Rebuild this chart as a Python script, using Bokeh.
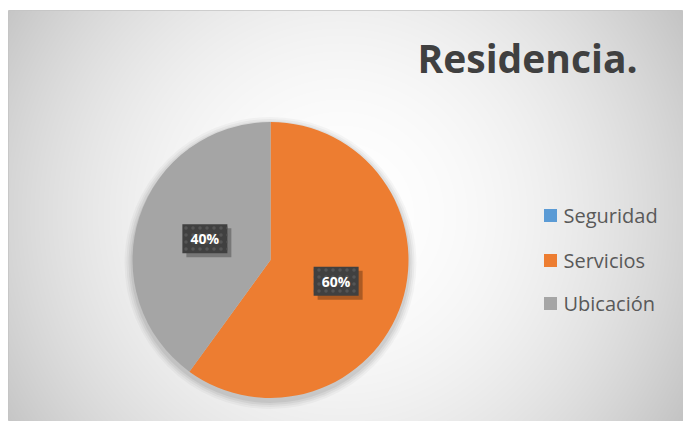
import numpy as np
from bokeh.plotting import figure
from bokeh.models import Range1d, ColumnDataSource
from bokeh.core.properties import value
from bokeh.embed import file_html
from bokeh.resources import INLINE

# ---- data ----
categories = ["Seguridad", "Servicios", "Ubicación"]
values = [0, 60, 40]
colors = ["#5B9BD5", "#ED7D31", "#A5A5A5"]
title_text = "Residencia."

LEFT, TOP = 8, 10
W, H = 683 - LEFT, 421 - TOP  # plot frame size in px
p = figure(width=W + LEFT, height=H + TOP, output_backend="svg", toolbar_location=None,
           x_range=Range1d(0, W), y_range=Range1d(0, H),
           min_border_top=TOP, min_border_left=LEFT, min_border_right=0, min_border_bottom=0)
p.axis.visible = False
p.grid.visible = False
p.outline_line_color = "#c4c4c4"
p.border_fill_color = "white"
p.background_fill_color = "white"

def Y(page_y):
    return H - (page_y - TOP)

def X(page_x):
    return page_x - LEFT

# ---- radial gradient background ----
yy, xx = np.mgrid[0:H, 0:W]
cx, cy = X(340), Y(215)
d = np.sqrt((xx - cx) ** 2 + (yy - cy) ** 2) / 395.0
g = np.clip(255 - 58 * d ** 2, 185, 255).astype(np.uint32)
img = (255 << 24) | (g << 16) | (g << 8) | g
p.image_rgba(image=[img.astype(np.uint32)], x=0, y=0, dw=W, dh=H)

# ---- pie ----
pcx, pcy, R = X(270), Y(259.5), 138
# soft shadow
for k, a in [(8, 0.03), (6, 0.04), (4, 0.05), (2, 0.06)]:
    p.circle(x=[pcx], y=[pcy - 3], radius=R + k, fill_color="black", fill_alpha=a, line_color=None)

total = float(sum(values))
cum = np.cumsum([0] + values) / total
starts, ends, cols, mids, fracs = [], [], [], [], []
for i, v in enumerate(values):
    if v <= 0:
        continue
    s = np.pi / 2 - 2 * np.pi * cum[i]
    e = np.pi / 2 - 2 * np.pi * cum[i + 1]
    starts.append(s); ends.append(e); cols.append(colors[i])
    mids.append((s + e) / 2); fracs.append(v / total)
src = ColumnDataSource(dict(start=starts, end=ends, color=cols))
p.wedge(x=pcx, y=pcy, radius=R, start_angle="start", end_angle="end", direction="clock",
        fill_color="color", line_color=None, source=src)

# ---- data labels ----
lx = [pcx + 0.5 * R * np.cos(m) for m in mids]
ly = [pcy + 0.5 * R * np.sin(m) for m in mids]
lt = ["%d%%" % round(f * 100) for f in fracs]
p.rect(x=[x + 4 for x in lx], y=[y - 4 for y in ly], width=45, height=29,
       fill_color="black", fill_alpha=0.28, line_color=None)
p.rect(x=lx, y=ly, width=45, height=29, fill_color="#404040", line_color=None,
       hatch_pattern="dot", hatch_color="#555555", hatch_scale=7, hatch_weight=2)
p.text(x=lx, y=ly, text=lt, text_align="center", text_baseline="middle",
       text_font=value("Open Sans"), text_font_style="bold", text_font_size="14px",
       text_color="white")

# ---- title ----
p.text(x=[X(417)], y=[Y(57)], text=[title_text], text_align="left", text_baseline="alphabetic",
       text_font=value("Open Sans"), text_font_style="bold", text_font_size="39px",
       text_color="#404040")

# ---- legend ----
leg_y = [215, 260, 303]
p.rect(x=[X(550)] * 3, y=[Y(v) for v in leg_y], width=13, height=13,
       fill_color=colors, line_color=None)
p.text(x=[X(563)] * 3, y=[Y(v) for v in leg_y], text=categories,
       text_align="left", text_baseline="middle",
       text_font=value("Open Sans"), text_font_size="20px", text_color="#595959")

open("out.html", "w").write(file_html(p, INLINE))
